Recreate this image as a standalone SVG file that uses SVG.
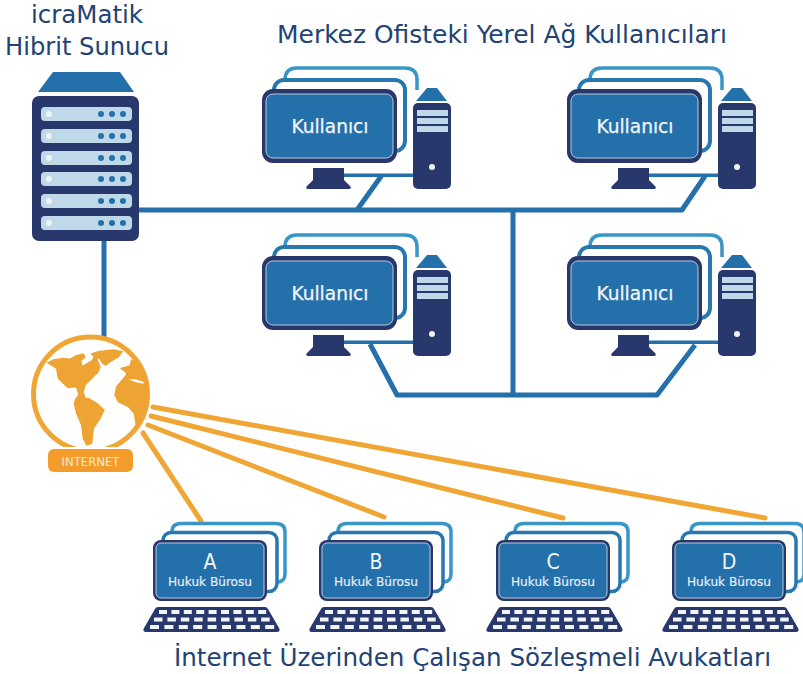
<svg xmlns="http://www.w3.org/2000/svg" xmlns:xlink="http://www.w3.org/1999/xlink" width="803" height="674" viewBox="0 0 803 674">
<style>
.dark{fill:#28386c}
.blue{fill:#2470aa}
.slot{fill:#bfd9e8}
.t{font-family:"DejaVu Sans Condensed","DejaVu Sans",sans-serif;text-anchor:middle}
.title{fill:#234274;font-size:24px}
.user{fill:#f2f6fa;font-size:20px;stroke:#f2f6fa;stroke-width:.25px}
.letter{fill:#f2f6fa;font-size:21px}
.firm{fill:#e4edf4;font-size:13px;stroke:#e4edf4;stroke-width:.2px}
.net{stroke:#2470aa;fill:none;stroke-linejoin:round}
.web{stroke:#f0a634;stroke-width:5;stroke-linecap:round;fill:none}
.k{fill:#f2f5f8}
</style>
<defs>
<clipPath id="globeClip"><circle cx="90.5" cy="394" r="57"/></clipPath>
<g id="pc">
<path d="M285 80Q285 68 297 68H405Q417 68 417 80V90" fill="none" stroke="#3a96c6" stroke-width="3.5"/>
<rect x="274" y="80" width="131" height="71" rx="10" fill="#fff" stroke="#2878ae" stroke-width="4"/>
<rect x="262" y="89" width="135" height="74" rx="11" class="dark"/>
<rect x="266" y="94" width="127" height="64" rx="7" class="blue" stroke="#b9c9d9" stroke-width="1"/>
<path class="dark" d="M313 168H344V180L350 186Q352 189 349 189H308Q305 189 307 186L313 180Z"/>
<rect x="344" y="173.500" width="70" height="3.500" class="blue"/>
<path class="blue" d="M416 101L427 88H437L447 101Z"/>
<rect x="413" y="103" width="38" height="86" rx="5" class="dark"/>
<rect x="417" y="110" width="31" height="6" class="slot"/>
<rect x="417" y="118" width="31" height="6" class="slot"/>
<rect x="417" y="126" width="31" height="6" class="slot"/>
<circle cx="432" cy="167" r="3" fill="#f2f5f8"/>
</g>
<g id="laptop">
<path d="M172 540V532Q172 523.500 181 523.500H276Q285 523.500 285 532V574Q285 582 277 582" fill="#fff" stroke="#3a96c6" stroke-width="3.500"/>
<rect x="163" y="532.500" width="114" height="59" rx="8" fill="#fff" stroke="#2878ae" stroke-width="3.500"/>
<rect x="153" y="540" width="114" height="61" rx="8" class="dark"/>
<rect x="156" y="543" width="108" height="55" rx="5" class="blue" stroke="#b9c9d9" stroke-width="1"/>
<path class="dark" d="M158 607H265Q267 607 268 609L279 628Q281 632 277 632H146Q142 632 144 628L155 609Q156 607 158 607Z"/>
<g id="keys">
<rect class="k" x="159" y="610" width="8" height="4"/><rect class="k" x="171.400" y="610" width="8" height="4"/><rect class="k" x="183.800" y="610" width="8" height="4"/><rect class="k" x="196.200" y="610" width="8" height="4"/><rect class="k" x="208.600" y="610" width="8" height="4"/><rect class="k" x="221" y="610" width="8" height="4"/><rect class="k" x="233.400" y="610" width="8" height="4"/><rect class="k" x="245.800" y="610" width="8" height="4"/><rect class="k" x="258.200" y="610" width="8" height="4"/>
<rect class="k" x="154" y="617.500" width="8.500" height="4"/><rect class="k" x="167.400" y="617.500" width="8.500" height="4"/><rect class="k" x="180.800" y="617.500" width="8.500" height="4"/><rect class="k" x="194.200" y="617.500" width="8.500" height="4"/><rect class="k" x="207.600" y="617.500" width="8.500" height="4"/><rect class="k" x="221" y="617.500" width="8.500" height="4"/><rect class="k" x="234.400" y="617.500" width="8.500" height="4"/><rect class="k" x="247.800" y="617.500" width="8.500" height="4"/><rect class="k" x="261.200" y="617.500" width="8.500" height="4"/>
<rect class="k" x="150" y="625" width="9" height="4"/><rect class="k" x="164.400" y="625" width="9" height="4"/><rect class="k" x="178.800" y="625" width="9" height="4"/><rect class="k" x="193.200" y="625" width="9" height="4"/><rect class="k" x="207.600" y="625" width="9" height="4"/><rect class="k" x="222" y="625" width="9" height="4"/><rect class="k" x="236.400" y="625" width="9" height="4"/><rect class="k" x="250.800" y="625" width="9" height="4"/><rect class="k" x="265.200" y="625" width="9" height="4"/>
</g>
</g>
</defs>
<rect width="803" height="674" fill="#fff"/>

<g id="connectors">
<path class="net" stroke-width="5" d="M104 240V337"/>
<path class="net" stroke-width="5" d="M139 210H682L705 176"/>
<path class="net" stroke-width="5" d="M382 175L357 210"/>
<path class="net" stroke-width="5" d="M513 210V395"/>
<path class="net" stroke-width="5" d="M370 344L397 395H657L695 345"/>
<path class="web" d="M143 433L201 521"/>
<path class="web" d="M148 425L384 517"/>
<path class="web" d="M151 416L563 518"/>
<path class="web" d="M153 407L765 518"/>
</g>

<g id="server">
<text class="t title" x="87" y="23" textLength="112" lengthAdjust="spacingAndGlyphs">icraMatik</text>
<text class="t title" x="87" y="55" textLength="164" lengthAdjust="spacingAndGlyphs">Hibrit Sunucu</text>
<path class="blue" d="M38 92L53 72H120L134 92Z"/>
<rect x="32" y="96" width="107" height="145" rx="7" class="dark"/>
<g id="rack">
<rect x="41" y="107" width="91" height="14" rx="4" class="slot"/><circle cx="49" cy="114" r="3" fill="#f0f3f5"/><circle cx="101" cy="114" r="3" class="blue"/><circle cx="112" cy="114" r="3" class="blue"/><circle cx="123" cy="114" r="3" class="blue"/>
<rect x="41" y="129" width="91" height="14" rx="4" class="slot"/><circle cx="49" cy="136" r="3" fill="#f0f3f5"/><circle cx="101" cy="136" r="3" class="blue"/><circle cx="112" cy="136" r="3" class="blue"/><circle cx="123" cy="136" r="3" class="blue"/>
<rect x="41" y="151" width="91" height="14" rx="4" class="slot"/><circle cx="49" cy="158" r="3" fill="#f0f3f5"/><circle cx="101" cy="158" r="3" class="blue"/><circle cx="112" cy="158" r="3" class="blue"/><circle cx="123" cy="158" r="3" class="blue"/>
<rect x="41" y="172" width="91" height="14" rx="4" class="slot"/><circle cx="49" cy="179" r="3" fill="#f0f3f5"/><circle cx="101" cy="179" r="3" class="blue"/><circle cx="112" cy="179" r="3" class="blue"/><circle cx="123" cy="179" r="3" class="blue"/>
<rect x="41" y="194" width="91" height="14" rx="4" class="slot"/><circle cx="49" cy="201" r="3" fill="#f0f3f5"/><circle cx="101" cy="201" r="3" class="blue"/><circle cx="112" cy="201" r="3" class="blue"/><circle cx="123" cy="201" r="3" class="blue"/>
<rect x="41" y="216" width="91" height="14" rx="4" class="slot"/><circle cx="49" cy="223" r="3" fill="#f0f3f5"/><circle cx="101" cy="223" r="3" class="blue"/><circle cx="112" cy="223" r="3" class="blue"/><circle cx="123" cy="223" r="3" class="blue"/>
</g>
</g>

<g id="internet">
<circle cx="90.500" cy="394" r="57" fill="#fff" stroke="#f0a634" stroke-width="5"/>
<g clip-path="url(#globeClip)">
<g transform="translate(35 340) scale(.33333)" fill="#eda433" stroke="#eda433" stroke-width="4" stroke-linejoin="round">
<path d="M38 68L55 60L85 55L105 58L122 48L145 42L150 52L137 62L141 80L172 62L178 50L170 42L190 35L235 30L262 35L250 50L225 65L212 75L205 72L190 50L186 60L195 80L190 95L170 115L150 135L143 160L135 150L122 140L100 143L85 130L70 115L65 85Z"/>
<path d="M126 145L145 160L152 178L122 178L132 165Z"/>
<path d="M122 178L160 175L185 190L207 210L195 235L175 265L170 310L155 315L145 295L140 255L125 220L118 190Z"/>
<path d="M258 85L285 78L290 60L300 65L330 110L345 165V262H305L298 220L280 200L250 185L240 165L245 140L275 105L272 95Z"/>
<path d="M280 118L300 118L326 126L325 131L300 126Z" fill="#fff" stroke="none"/>
</g>
</g>
<rect x="46" y="447" width="89" height="27" rx="8" fill="#fff"/>
<rect x="48" y="449" width="85" height="23" rx="6" fill="#f39c2c"/>
<text class="t" x="90.500" y="466" font-size="13" fill="#f7e8d0" textLength="58" lengthAdjust="spacingAndGlyphs">INTERNET</text>
</g>

<text id="office-title" class="t title" x="502" y="43" textLength="450" lengthAdjust="spacingAndGlyphs">Merkez Ofisteki Yerel Ağ Kullanıcıları</text>

<g id="user-1"><use href="#pc"/><text class="t user" x="330" y="133" textLength="77" lengthAdjust="spacingAndGlyphs">Kullanıcı</text></g>
<g id="user-2"><use href="#pc" x="305"/><text class="t user" x="635" y="133" textLength="77" lengthAdjust="spacingAndGlyphs">Kullanıcı</text></g>
<g id="user-3"><use href="#pc" y="167"/><text class="t user" x="330" y="300" textLength="77" lengthAdjust="spacingAndGlyphs">Kullanıcı</text></g>
<g id="user-4"><use href="#pc" x="305" y="167"/><text class="t user" x="635" y="300" textLength="77" lengthAdjust="spacingAndGlyphs">Kullanıcı</text></g>

<g id="lawyer-a"><use href="#laptop"/><text class="t letter" x="210" y="569">A</text><text class="t firm" x="210" y="586" textLength="84" lengthAdjust="spacingAndGlyphs">Hukuk Bürosu</text></g>
<g id="lawyer-b"><use href="#laptop" x="166"/><text class="t letter" x="376" y="569">B</text><text class="t firm" x="376" y="586" textLength="84" lengthAdjust="spacingAndGlyphs">Hukuk Bürosu</text></g>
<g id="lawyer-c"><use href="#laptop" x="343"/><text class="t letter" x="553" y="569">C</text><text class="t firm" x="553" y="586" textLength="84" lengthAdjust="spacingAndGlyphs">Hukuk Bürosu</text></g>
<g id="lawyer-d"><use href="#laptop" x="519"/><text class="t letter" x="729" y="569">D</text><text class="t firm" x="729" y="586" textLength="84" lengthAdjust="spacingAndGlyphs">Hukuk Bürosu</text></g>

<text id="remote-title" class="t title" x="472.500" y="666" textLength="597" lengthAdjust="spacingAndGlyphs">İnternet Üzerinden Çalışan Sözleşmeli Avukatları</text>
</svg>
